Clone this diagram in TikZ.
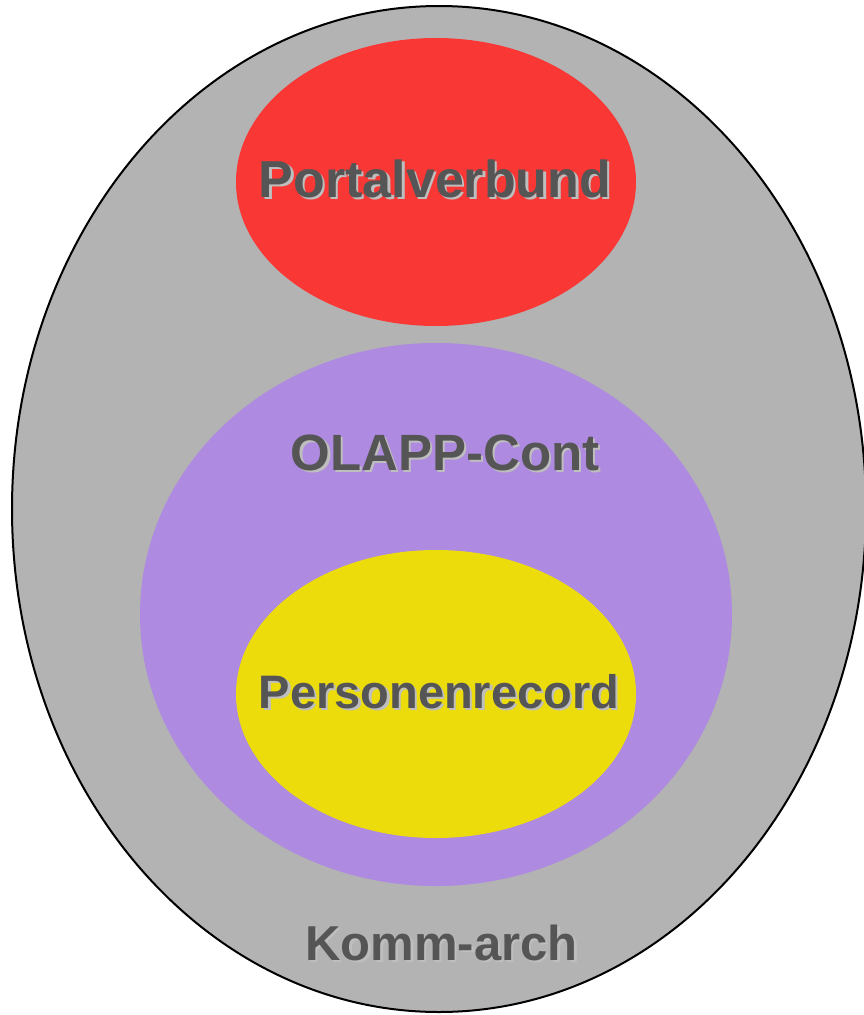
\documentclass[tikz,border=0pt]{standalone}
\usepackage{fontspec}
\setmainfont{Liberation Sans}
\usetikzlibrary{shapes.geometric}
\definecolor{outerfill}{RGB}{179,179,179}
\definecolor{redfill}{RGB}{249,56,53}
\definecolor{purplefill}{RGB}{174,138,224}
\definecolor{yellowfill}{RGB}{236,220,12}
\definecolor{txtcol}{RGB}{85,85,85}
\definecolor{shadowcol}{RGB}{190,190,190}
\newcommand{\shadowtext}[1]{\makebox[0pt][l]{\hspace{2.5pt}\raisebox{-2.5pt}{\textcolor{shadowcol}{#1}}}\textcolor{txtcol}{#1}}
\tikzset{
  setshape/.style={ellipse, inner sep=0pt, outer sep=0pt},
  lbl/.style={anchor=base, inner sep=0pt, font=\bfseries\fontsize{#1}{#1}\selectfont}
}
\begin{document}
\begin{tikzpicture}[x=1pt,y=-1pt]
\useasboundingbox (0,0) rectangle (864,1015);
\clip (0,0) rectangle (864,1015);
\fill[white] (0,0) rectangle (864,1015);
\node[setshape, draw=black, line width=2pt, fill=outerfill, minimum width=854pt, minimum height=1006pt] (komm) at (439,509) {};
\node[setshape, fill=redfill, minimum width=400pt, minimum height=288pt] (portal) at (436,182) {};
\node[setshape, fill=purplefill, minimum width=592pt, minimum height=543pt] (olapp) at (436,614.5) {};
\node[setshape, fill=yellowfill, minimum width=400pt, minimum height=288pt] (person) at (436,694) {};
\node[lbl=52] (portalL) at (435,197) {\shadowtext{Portalverbund}};
\node[lbl=51] (olappL) at (445,470) {\shadowtext{OLAPP-Cont}};
\node[lbl=47] (personL) at (439,708) {\shadowtext{Personenrecord}};
\node[lbl=49] (kommL) at (441.5,960) {\shadowtext{Komm-arch}};
\end{tikzpicture}
\end{document}
